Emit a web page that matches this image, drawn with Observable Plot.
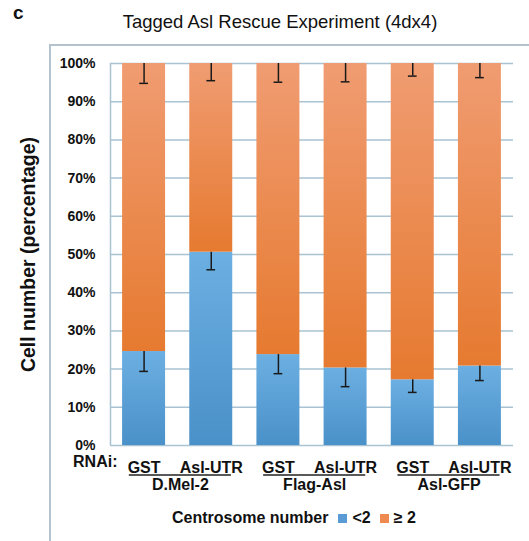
<!DOCTYPE html>
<html>
<head>
<meta charset="utf-8">
<script src="https://cdn.jsdelivr.net/npm/d3@7"></script>
<script src="https://cdn.jsdelivr.net/npm/@observablehq/plot@0.6"></script>
<style>
  body { margin: 0; background: #fff; font-family: "Liberation Sans", Arial, sans-serif; color: #111; }
  #wrap { position: relative; width: 529px; height: 541px; overflow: hidden; }
  #border { position: absolute; left: 49px; top: 44px; right: -4px; bottom: -4px; border-left: 2px solid #b3c2cc; border-top: 2px solid #b3c2cc; }
  #panel { position: absolute; left: 13px; top: 2px; font-weight: bold; font-size: 19px; }
  #title { position: absolute; left: 0; top: 11px; width: 560px; text-align: center; font-size: 18.5px; }
  #chart { position: absolute; left: 0; top: 45px; }
  #legend { position: absolute; left: 172px; top: 509px; display: flex; align-items: center; font-weight: bold; font-size: 16px; white-space: nowrap; }
  .sw { display: inline-block; width: 9px; height: 9px; margin-right: 5px; }
</style>
</head>
<body>
<div id="wrap">
  <div id="border"></div>
  <div id="panel">c</div>
  <div id="title">Tagged Asl Rescue Experiment (4dx4)</div>
  <div id="chart"></div>
  <div id="legend">
    <span style="margin-right:10px">Centrosome number</span>
    <span class="sw" style="background:#5b9bd5"></span><span style="margin-right:9px">&lt;2</span>
    <span class="sw" style="background:#ee8a4f"></span><span>≥ 2</span>
  </div>
</div>
<script>
// ---- data ----
const rnai = ["GST", "Asl-UTR", "GST", "Asl-UTR", "GST", "Asl-UTR"];
const groups = ["D.Mel-2", "Flag-Asl", "Asl-GFP"];
const lowPct = [24.6, 50.6, 23.8, 20.3, 17.2, 20.8];   // % cells with <2 centrosomes
const lowErr = [5.2, 4.6, 5.0, 4.9, 3.3, 3.8];         // error bar below top of blue segment
const highErr = [5.2, 4.5, 4.9, 4.8, 3.3, 3.7];        // error bar below 100% (orange)
const yTicks = [0, 10, 20, 30, 40, 50, 60, 70, 80, 90, 100];

const rows = rnai.map((r, i) => ({
  i, rnai: r, group: groups[Math.floor(i / 2)],
  low: lowPct[i], lowErr: lowErr[i], highErr: highErr[i]
}));

const half = 0.32, cap = 0.065;
const dark = "#1a1a1a";

const svg = Plot.plot({
  width: 529,
  height: 460,
  marginTop: 18,
  marginBottom: 60,
  marginLeft: 110,
  marginRight: 16,
  x: {type: "linear", domain: [-0.5, 5.5]},
  y: {domain: [0, 100]},
  style: {fontFamily: "'Liberation Sans', Arial, sans-serif", color: "#111", background: "transparent", overflow: "visible"},
  marks: [
    Plot.ruleY(yTicks, {stroke: "#a9c3d3", strokeWidth: 1.5}),
    Plot.ruleX([-0.5], {y1: 0, y2: 100, stroke: "#a9c3d3", strokeWidth: 1.5}),
    Plot.rectY(rows, {x1: d => d.i - half, x2: d => d.i + half, y1: 0, y2: "low", fill: "url(#gBlue)"}),
    Plot.rectY(rows, {x1: d => d.i - half, x2: d => d.i + half, y1: "low", y2: 100, fill: "url(#gOrange)"}),
    // error bars (blue segment)
    Plot.ruleX(rows, {x: "i", y1: "low", y2: d => d.low - d.lowErr, stroke: dark, strokeWidth: 1.5}),
    Plot.ruleY(rows, {y: d => d.low - d.lowErr, x1: d => d.i - cap, x2: d => d.i + cap, stroke: dark, strokeWidth: 1.5}),
    // error bars (orange segment)
    Plot.ruleX(rows, {x: "i", y1: 100, y2: d => 100 - d.highErr, stroke: dark, strokeWidth: 1.5}),
    Plot.ruleY(rows, {y: d => 100 - d.highErr, x1: d => d.i - cap, x2: d => d.i + cap, stroke: dark, strokeWidth: 1.5}),
    Plot.axisY({ticks: yTicks, tickFormat: d => d + "%", tickSize: 0, tickPadding: 15, fontSize: 14, fontWeight: "bold", label: null}),
    Plot.axisX({ticks: rows.map(d => d.i), tickFormat: i => rnai[i], tickSize: 0, tickPadding: 16, fontSize: 16, fontWeight: "bold", label: null}),
    Plot.text(["RNAi:"], {frameAnchor: "bottom-left", textAnchor: "end", dx: 7, dy: 21, fontSize: 16, fontWeight: "bold"}),
    Plot.ruleY(groups, {y: 0, x1: (d, i) => 2 * i - 0.22, x2: (d, i) => 2 * i + 1.3, dy: 29.5, stroke: "#222", strokeWidth: 1.3}),
    Plot.text(groups, {x: (d, i) => 2 * i + 0.54, frameAnchor: "bottom", dy: 44, fontSize: 16, fontWeight: "bold"}),
    Plot.text(["Cell number (percentage)"], {frameAnchor: "left", textAnchor: "middle", rotate: -90, dx: -82, fontSize: 19.5, fontWeight: "bold"})
  ]
});

d3.select(svg).insert("defs", ":first-child").html(`
  <linearGradient id="gBlue" x1="0" y1="0" x2="0" y2="1">
    <stop offset="0" stop-color="#6cafe2"/>
    <stop offset="1" stop-color="#4a91c9"/>
  </linearGradient>
  <linearGradient id="gOrange" x1="0" y1="0" x2="0" y2="1">
    <stop offset="0" stop-color="#f09c72"/>
    <stop offset="1" stop-color="#e67a30"/>
  </linearGradient>
`);

document.getElementById("chart").appendChild(svg);
</script>
</body>
</html>
